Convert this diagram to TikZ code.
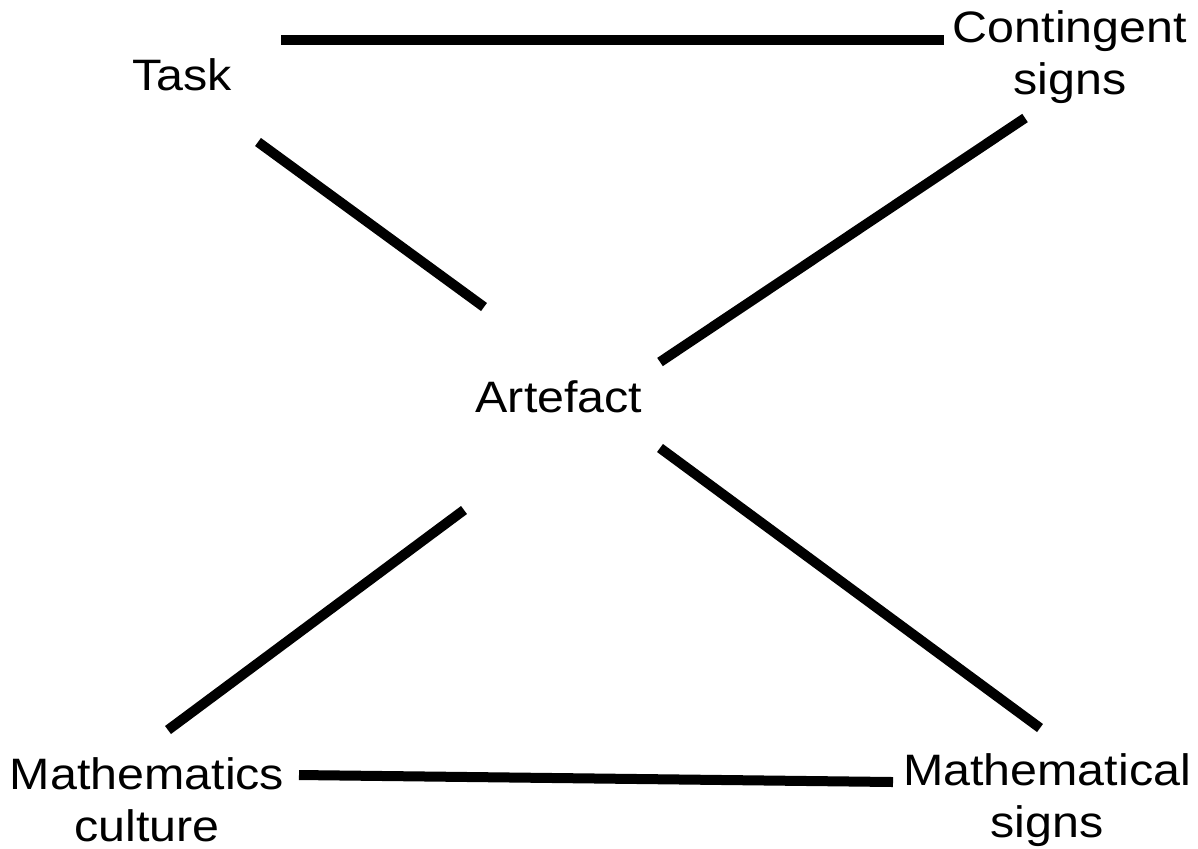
\documentclass[tikz,border=0pt]{standalone}
\usepackage{fontspec}
\setmainfont{Liberation Sans}
\newfontfamily\lblfont[FakeStretch=1.1]{Liberation Sans}
\usepackage{tikz}
\usetikzlibrary{calc,positioning}

\begin{document}
\begin{tikzpicture}[
  x=0.5pt, y=-0.5pt,
  lbl/.style={align=center, inner sep=0pt, font=\lblfont\fontsize{22}{26}\selectfont},
  link/.style={line width=5pt, line cap=butt}
]
\useasboundingbox (0,0) rectangle (1198,848);
\node[lbl] (task) at (182,75) {Task};
\node[lbl] (cont) at (1070,57) {Contingent\\signs};
\node[lbl] (art) at (559,397) {Artefact};
\node[lbl] (cult) at (147,800) {Mathematics\\culture};
\node[lbl] (msig) at (1047,800) {Mathematical\\signs};

\draw[link] ($(task)+(99,-35)$) -- ($(cont)+(-126,-17)$);
\draw[link] ($(task)+(76,67)$) -- ($(art)+(-75,-90)$);
\draw[link] ($(art)+(101,-35)$) -- ($(cont)+(-45,61)$);
\draw[link] ($(art)+(-95,113)$) -- ($(cult)+(21,-70)$);
\draw[link] ($(art)+(101,51)$) -- ($(msig)+(-7,-72)$);
\draw[link] ($(cult)+(152,-25)$) -- ($(msig)+(-154,-18)$);
\end{tikzpicture}
\end{document}
